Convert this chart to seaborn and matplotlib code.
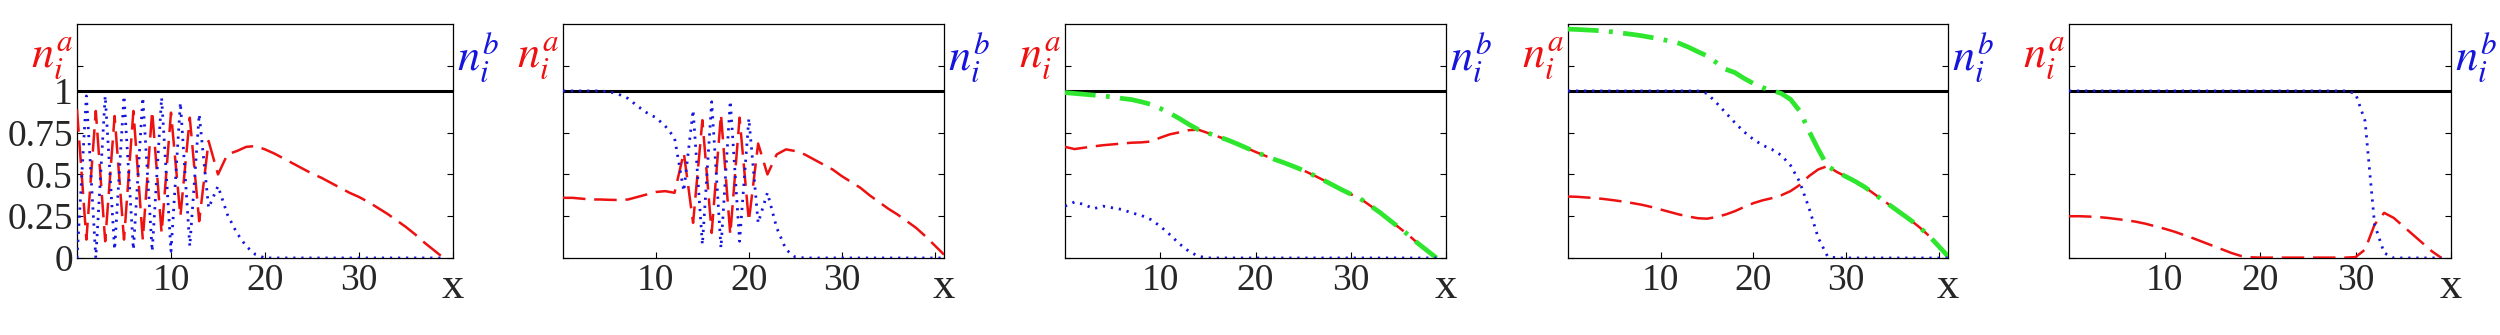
import numpy as np
import pandas as pd
import matplotlib
matplotlib.use("Agg")
import matplotlib.pyplot as plt
import matplotlib.transforms as mtransforms
import seaborn as sns

# sites (x) for the two chain lengths
sites_39 = list(range(40))
sites_41 = list(range(42))

# panel 1
red_1 = [0.89, 0.11, 0.88, 0.10, 0.85, 0.11, 0.88, 0.11, 0.88, 0.15,
         0.87, 0.25, 0.84, 0.22, 0.70, 0.50, 0.62, 0.64, 0.665, 0.67,
         0.65, 0.625, 0.595, 0.565, 0.535, 0.505, 0.48, 0.45, 0.42, 0.39,
         0.365, 0.335, 0.30, 0.265, 0.225, 0.185, 0.14, 0.09, 0.045, 0.0]
blue_1 = [0.0, 0.97, 0.0, 0.97, 0.05, 0.97, 0.05, 0.96, 0.04, 0.96,
          0.04, 0.93, 0.07, 0.86, 0.30, 0.43, 0.26, 0.15, 0.07, 0.02,
          0.0, 0.0, 0.0, 0.0, 0.0, 0.0, 0.0, 0.0, 0.0, 0.0,
          0.0, 0.0, 0.0, 0.0, 0.0, 0.0, 0.0, 0.0, 0.0, 0.0]

# panel 2
red_2 = [0.36, 0.36, 0.355, 0.35, 0.35, 0.348, 0.347, 0.35, 0.365, 0.38,
         0.395, 0.40, 0.39, 0.63, 0.21, 0.825, 0.15, 0.86, 0.14, 0.84,
         0.22, 0.685, 0.50, 0.62, 0.65, 0.64, 0.62, 0.59, 0.56, 0.53,
         0.49, 0.455, 0.42, 0.375, 0.335, 0.295, 0.26, 0.22, 0.18, 0.13,
         0.075, 0.02]
blue_2 = [1.0, 1.0, 1.0, 1.0, 1.0, 0.995, 0.98, 0.955, 0.91, 0.87,
          0.84, 0.79, 0.72, 0.40, 0.885, 0.08, 0.935, 0.06, 0.94, 0.10,
          0.835, 0.21, 0.39, 0.18, 0.05, 0.005, 0.0, 0.0, 0.0, 0.0,
          0.0, 0.0, 0.0, 0.0, 0.0, 0.0, 0.0, 0.0, 0.0, 0.0,
          0.0, 0.0]

# panel 3
red_3 = [0.665, 0.652, 0.66, 0.668, 0.675, 0.68, 0.685, 0.69, 0.692, 0.697,
         0.72, 0.74, 0.752, 0.765, 0.768, 0.748, 0.728, 0.708, 0.685, 0.66,
         0.635, 0.612, 0.59, 0.57, 0.548, 0.525, 0.498, 0.47, 0.44, 0.41,
         0.382, 0.355, 0.315, 0.275, 0.23, 0.185, 0.14, 0.09, 0.045, 0.0]
green_3 = [0.99, 0.985, 0.98, 0.975, 0.97, 0.963, 0.955, 0.948, 0.935, 0.92,
           0.895, 0.867, 0.835, 0.80, 0.768, 0.748, 0.728, 0.708, 0.685, 0.66,
           0.635, 0.612, 0.59, 0.57, 0.548, 0.525, 0.498, 0.47, 0.44, 0.41,
           0.382, 0.355, 0.315, 0.275, 0.23, 0.185, 0.14, 0.09, 0.045, 0.0]
blue_3 = [0.31, 0.335, 0.32, 0.295, 0.31, 0.30, 0.29, 0.27, 0.255, 0.23,
          0.19, 0.14, 0.085, 0.04, 0.01, 0.0, 0.0, 0.0, 0.0, 0.0,
          0.0, 0.0, 0.0, 0.0, 0.0, 0.0, 0.0, 0.0, 0.0, 0.0,
          0.0, 0.0, 0.0, 0.0, 0.0, 0.0, 0.0, 0.0, 0.0, 0.0]

# panel 4
red_4 = [0.368, 0.366, 0.362, 0.358, 0.352, 0.345, 0.337, 0.328, 0.318, 0.305,
         0.29, 0.275, 0.26, 0.248, 0.238, 0.235, 0.245, 0.26, 0.28, 0.305,
         0.328, 0.345, 0.358, 0.375, 0.40, 0.437, 0.49, 0.53, 0.55, 0.515,
         0.487, 0.458, 0.425, 0.385, 0.345, 0.305, 0.265, 0.225, 0.18, 0.13,
         0.07, 0.01]
green_4 = [1.37, 1.368, 1.365, 1.362, 1.358, 1.352, 1.345, 1.338, 1.33, 1.32,
           1.31, 1.298, 1.285, 1.262, 1.235, 1.21, 1.17, 1.13, 1.11, 1.075,
           1.045, 1.02, 1.003, 0.985, 0.95, 0.88, 0.76, 0.65, 0.55, 0.515,
           0.487, 0.458, 0.425, 0.385, 0.345, 0.305, 0.265, 0.225, 0.18, 0.13,
           0.07, 0.01]
blue_4 = [1.0, 1.0, 1.0, 1.0, 1.0, 1.0, 1.0, 1.0, 1.0, 1.0,
          1.0, 1.0, 1.0, 1.0, 1.0, 0.985, 0.93, 0.87, 0.81, 0.755,
          0.71, 0.675, 0.65, 0.615, 0.555, 0.455, 0.30, 0.12, 0.01, 0.0,
          0.0, 0.0, 0.0, 0.0, 0.0, 0.0, 0.0, 0.0, 0.0, 0.0,
          0.0, 0.0]

# panel 5
red_5 = [0.25, 0.25, 0.248, 0.245, 0.24, 0.233, 0.226, 0.217, 0.205, 0.19,
         0.175, 0.158, 0.138, 0.118, 0.096, 0.074, 0.052, 0.03, 0.012, 0.004,
         0.002, 0.002, 0.002, 0.002, 0.002, 0.002, 0.002, 0.002, 0.002, 0.002,
         0.005, 0.05, 0.20, 0.27, 0.24, 0.19, 0.14, 0.09, 0.04, 0.0]
blue_5 = [1.0, 1.0, 1.0, 1.0, 1.0, 1.0, 1.0, 1.0, 1.0, 1.0,
          1.0, 1.0, 1.0, 1.0, 1.0, 1.0, 1.0, 1.0, 1.0, 1.0,
          1.0, 1.0, 1.0, 1.0, 1.0, 1.0, 1.0, 1.0, 1.0, 1.0,
          0.985, 0.82, 0.20, 0.03, 0.0, 0.0, 0.0, 0.0, 0.0, 0.0]

saturation_level = 1.0
y_ticks = [0, 0.25, 0.5, 0.75, 1, 1.15]
y_tick_labels = ["0", "0.25", "0.5", "0.75", "1", ""]
x_ticks = [10, 20, 30, 40]
x_tick_labels = ["10", "20", "30", ""]

panels = [
    (sites_39, red_1, None, blue_1),
    (sites_41, red_2, None, blue_2),
    (sites_39, red_3, green_3, blue_3),
    (sites_41, red_4, green_4, blue_4),
    (sites_39, red_5, None, blue_5),
]

sns.set_theme(style="white")
plt.rcParams["font.family"] = ["Liberation Serif", "DejaVu Serif"]
plt.rcParams["mathtext.fontset"] = "stix"

RED = "#ee1111"
BLUE = "#1515dd"
GREEN = "#2ee62e"

fig = plt.figure(figsize=(25, 3.35), dpi=100)
lefts = [0.0308, 0.2252, 0.426, 0.6272, 0.8276]
widths = [0.1504, 0.1524, 0.1524, 0.152, 0.1528]

for k, (sites, red, green, blue) in enumerate(panels):
    ax = fig.add_axes([lefts[k], 0.230, widths[k], 0.698])
    ax.axhline(saturation_level, color="black", lw=2.2, zorder=2)
    df = pd.DataFrame({"x": sites, "red": red, "blue": blue})
    sns.lineplot(data=df, x="x", y="red", ax=ax, color=RED, lw=1.8,
                 linestyle=(0, (9, 3.5)), zorder=3)
    if green is not None:
        df["green"] = green
        sns.lineplot(data=df, x="x", y="green", ax=ax, color=GREEN, lw=3.4,
                     linestyle=(0, (6.5, 2.2, 0.8, 2.2)), zorder=4)
    sns.lineplot(data=df, x="x", y="blue", ax=ax, color=BLUE, lw=2.0,
                 linestyle=(0, (0.8, 2.1)), zorder=5)

    ax.set_xlim(0, sites[-1])
    ax.set_ylim(0, 1.4)
    ax.set_xticks(x_ticks)
    ax.set_xticklabels(x_tick_labels)
    ax.set_yticks(y_ticks)
    if k == 0:
        ax.set_yticklabels(y_tick_labels)
        # the "1" sits a little under its tick, as in the original
        lab = ax.get_yticklabels()[4]
        lab.set_transform(lab.get_transform() +
                          mtransforms.ScaledTranslation(0, -4 / 72, fig.dpi_scale_trans))
    else:
        ax.set_yticklabels([])
    ax.set_xlabel("")
    ax.set_ylabel("")
    ax.tick_params(direction="in", left=True, right=True, bottom=True, top=False,
                   length=4, width=0.8, color="black", labelsize=27, pad=4)
    ax.tick_params(axis="y", pad=3)
    for sp in ax.spines.values():
        sp.set_color("black")
        sp.set_linewidth(0.9)

    ax.text(1.0, -0.125, "x", transform=ax.transAxes, ha="center", va="center",
            fontsize=32)
    ax.text(-0.012, 0.855, r"$n_i^a$", transform=ax.transAxes, ha="right",
            va="center", color=RED, fontsize=32)
    ax.text(1.011, 0.855, r"$n_i^b$", transform=ax.transAxes, ha="left",
            va="center", color=BLUE, fontsize=32)

fig.savefig("out.png", dpi=100)
